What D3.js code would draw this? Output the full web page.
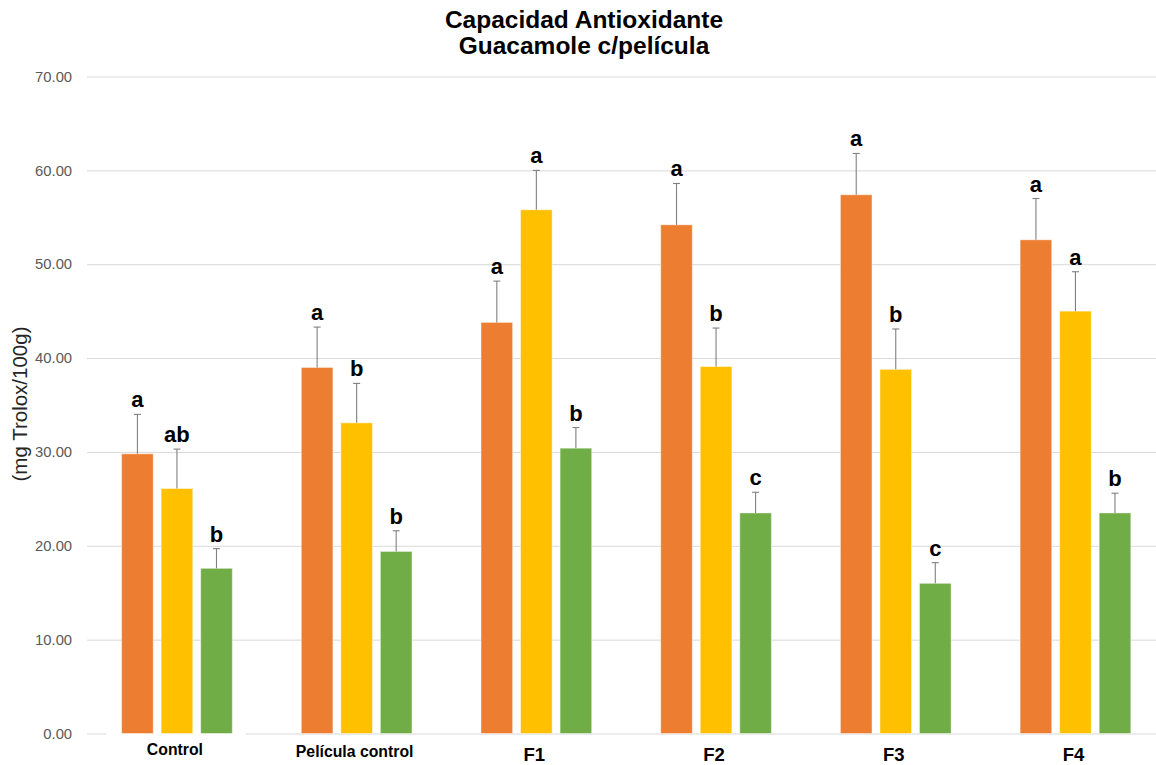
<!DOCTYPE html>
<html>
<head>
<meta charset="utf-8">
<script src="https://cdn.jsdelivr.net/npm/d3@7"></script>
<style>
  html, body { margin: 0; padding: 0; background: #fff; }
  svg { display: block; }
</style>
</head>
<body>
<svg id="chart" width="1156" height="765"></svg>
<script>
const categories = ["Control", "Película control", "F1", "F2", "F3", "F4"];
const seriesNames = ["S1", "S2", "S3"];
const seriesColors = ["#ED7D31", "#FFC000", "#70AD47"];
const values = [
  [29.8, 39.0, 43.8, 54.2, 57.4, 52.6],
  [26.1, 33.1, 55.8, 39.1, 38.8, 45.0],
  [17.6, 19.4, 30.4, 23.5, 16.0, 23.5]
];
const errors = [
  [4.2, 4.3, 4.4, 4.4, 4.4, 4.4],
  [4.2, 4.2, 4.2, 4.1, 4.3, 4.2],
  [2.1, 2.2, 2.2, 2.2, 2.2, 2.1]
];
const letters = [
  ["a", "a", "a", "a", "a", "a"],
  ["ab", "b", "a", "b", "b", "a"],
  ["b", "b", "b", "c", "c", "b"]
];
const yTicks = [0, 10, 20, 30, 40, 50, 60, 70];
const titleLines = ["Capacidad Antioxidante", "Guacamole c/película"];
const yAxisTitle = "(mg Trolox/100g)";

(function () {
const svg = d3.select("#chart");
const mLeft = 87.1, mRight = 1165.3, mTop = 76.5, mBottom = 733.5;

const x0 = d3.scaleBand().domain(categories).range([mLeft, mRight])
  .paddingInner(0.34).paddingOuter(0.17);
const x1 = d3.scaleBand().domain(seriesNames).range([0, x0.bandwidth()])
  .paddingInner(0.2).paddingOuter(0.1);
const y = d3.scaleLinear().domain([0, 70]).range([mBottom, mTop]);

// gridlines + tick labels
const yAxis = d3.axisLeft(y).tickValues(yTicks).tickFormat(d3.format(".2f"))
  .tickSize(-(1156 - mLeft)).tickPadding(15);
const gy = svg.append("g").attr("transform", `translate(${mLeft},0)`).call(yAxis);
gy.select(".domain").remove();
gy.selectAll(".tick line").attr("stroke", "#d9d9d9").attr("stroke-width", 1);
gy.selectAll(".tick text").attr("fill", "#595959")
  .style("font-family", "'Liberation Sans', Arial, sans-serif")
  .style("font-size", "14.8px");

// white gap under first category label (as in reference)
svg.append("rect")
  .attr("x", x0(categories[0]) + x0.bandwidth() / 2 - 71)
  .attr("y", mBottom - 1.5).attr("width", 140).attr("height", 3)
  .attr("fill", "#fff");

// bars
const groups = svg.append("g").selectAll("g").data(seriesNames).join("g");
groups.each(function(s, si) {
  const g = d3.select(this);
  categories.forEach((c, ci) => {
    const v = values[si][ci], e = errors[si][ci];
    const bx = x0(c) + x1(s);
    const cx = bx + x1.bandwidth() / 2;
    g.append("rect")
      .attr("x", bx).attr("y", y(v))
      .attr("width", x1.bandwidth()).attr("height", y(0) - y(v))
      .attr("fill", seriesColors[si])
      .attr("stroke", "rgba(255,255,255,0.45)").attr("stroke-width", 1);
    g.append("line")
      .attr("x1", cx).attr("x2", cx).attr("y1", y(v)).attr("y2", y(v + e))
      .attr("stroke", "#808080").attr("stroke-width", 1.1);
    g.append("line")
      .attr("x1", cx - 3.5).attr("x2", cx + 3.5).attr("y1", y(v + e)).attr("y2", y(v + e))
      .attr("stroke", "#808080").attr("stroke-width", 1.1);
    g.append("text")
      .attr("x", cx).attr("y", y(v + e) - 7)
      .attr("text-anchor", "middle")
      .style("font-family", "'Liberation Sans', Arial, sans-serif")
      .style("font-weight", "bold").style("font-size", "22px")
      .attr("fill", "#000")
      .text(letters[si][ci]);
  });
});

// category labels
svg.append("g").selectAll("text").data(categories).join("text")
  .attr("x", d => x0(d) + x0.bandwidth() / 2 - 2)
  .attr("y", (d, i) => i === 0 ? 754.5 : (i === 1 ? 757 : 761))
  .attr("text-anchor", "middle")
  .style("font-family", "'Liberation Sans', Arial, sans-serif")
  .style("font-weight", "bold")
  .style("font-size", (d, i) => i < 2 ? "15.8px" : "18.5px")
  .attr("fill", "#000")
  .text(d => d);

// title
svg.append("g").selectAll("text").data(titleLines).join("text")
  .attr("x", 584).attr("y", (d, i) => 28 + i * 26)
  .attr("text-anchor", "middle")
  .style("font-family", "'Liberation Sans', Arial, sans-serif")
  .style("font-weight", "bold").style("font-size", "24.5px")
  .attr("fill", "#000")
  .text(d => d);

// y axis title
svg.append("text")
  .attr("transform", "translate(27,404) rotate(-90)")
  .attr("text-anchor", "middle")
  .style("font-family", "'Liberation Sans', Arial, sans-serif")
  .style("font-size", "20.5px")
  .attr("fill", "#262626")
  .text(yAxisTitle);
})();
</script>
</body>
</html>
